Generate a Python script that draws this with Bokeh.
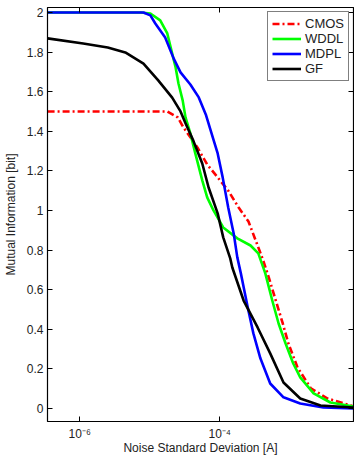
from bokeh.plotting import figure
from bokeh.models import (Range1d, FixedTicker, CustomJSTickFormatter, LinearAxis,
                          LogAxis, Legend, LegendItem)
from bokeh.embed import file_html
from bokeh.resources import INLINE

# ---- data ----
cmos_x = [3.47e-7, 1.78e-5, 2.51e-5, 3.02e-5, 3.80e-5, 4.79e-5, 6.61e-5, 9.33e-5,
          1.32e-4, 1.86e-4, 2.57e-4, 3.47e-4, 4.17e-4, 5.01e-4, 6.31e-4, 7.94e-4,
          9.55e-4, 1.29e-3, 2.00e-3, 3.47e-3, 7.41e-3, 8.13e-3]
cmos_y = [1.50, 1.50, 1.47, 1.42, 1.37, 1.318, 1.232, 1.167,
          1.10, 1.015, 0.944, 0.823, 0.747, 0.662, 0.545, 0.429,
          0.328, 0.207, 0.101, 0.05, 0.015, 0.01]

wddl_x = [3.47e-7, 7.41e-6, 1.02e-5, 1.41e-5, 1.78e-5, 2.09e-5, 2.34e-5, 2.57e-5,
          2.95e-5, 3.24e-5, 3.80e-5, 4.47e-5, 5.62e-5, 6.61e-5, 8.13e-5, 1.12e-4,
          1.78e-4, 2.75e-4, 3.55e-4, 4.47e-4, 5.62e-4, 6.92e-4, 8.71e-4, 1.12e-3,
          1.41e-3, 2.19e-3, 3.80e-3, 8.13e-3]
wddl_y = [2.0, 2.0, 1.995, 1.96, 1.894, 1.793, 1.722, 1.641,
          1.556, 1.47, 1.389, 1.288, 1.152, 1.066, 1.0, 0.914,
          0.859, 0.823, 0.783, 0.682, 0.545, 0.429, 0.328, 0.227,
          0.157, 0.076, 0.03, 0.01]

mdpl_x = [3.47e-7, 8.13e-6, 1.02e-5, 1.20e-5, 1.66e-5, 2.19e-5, 2.75e-5, 3.80e-5,
          5.01e-5, 6.31e-5, 7.94e-5, 9.33e-5, 1.10e-4, 1.32e-4, 1.58e-4, 1.78e-4,
          2.00e-4, 2.51e-4, 3.02e-4, 3.80e-4, 5.25e-4, 8.13e-4, 1.41e-3, 3.02e-3,
          8.13e-3]
mdpl_y = [2.0, 2.0, 1.985, 1.944, 1.874, 1.768, 1.697, 1.636,
          1.571, 1.485, 1.369, 1.288, 1.167, 1.015, 0.884, 0.763,
          0.682, 0.510, 0.379, 0.253, 0.126, 0.056, 0.025, 0.005,
          0.0]

gf_x = [3.47e-7, 1.12e-6, 2.51e-6, 4.47e-6, 8.13e-6, 1.32e-5, 2.09e-5, 2.75e-5,
        3.24e-5, 4.17e-5, 5.62e-5, 6.92e-5, 9.33e-5, 1.12e-4, 1.41e-4, 1.51e-4,
        2.19e-4, 3.47e-4, 5.25e-4, 8.13e-4, 1.41e-3, 2.75e-3, 8.13e-3]
gf_y = [1.869, 1.843, 1.823, 1.798, 1.742, 1.657, 1.57, 1.50,
        1.44, 1.354, 1.237, 1.116, 0.985, 0.864, 0.758, 0.712,
        0.545, 0.409, 0.278, 0.131, 0.05, 0.015, 0.005]

y_ticks = [0, 0.2, 0.4, 0.6, 0.8, 1.0, 1.2, 1.4, 1.6, 1.8, 2.0]
y_tick_labels = ["0", "0.2", "0.4", "0.6", "0.8", "1", "1.2", "1.4", "1.6", "1.8", "2"]
x_ticks = [1e-6, 1e-4]
x_tick_labels = ["10\u207b\u2076", "10\u207b\u2074"]

FONT = "Liberation Sans"

p = figure(width=354, height=457, x_axis_type="log",
           x_range=Range1d(3.46e-7, 8.13e-3), y_range=Range1d(-0.066, 2.025),
           output_backend="svg", toolbar_location=None,
           min_border_left=47, min_border_right=1, min_border_top=7,
           min_border_bottom=36)
p.grid.visible = False
p.outline_line_color = "black"
p.background_fill_color = "white"

y_fmt = CustomJSTickFormatter(args=dict(vals=y_ticks, labs=y_tick_labels), code="""
const i = vals.findIndex(v => Math.abs(v - tick) < 1e-6);
return i >= 0 ? labs[i] : '';
""")
x_fmt = CustomJSTickFormatter(args=dict(vals=x_ticks, labs=x_tick_labels), code="""
const i = vals.findIndex(v => Math.abs(Math.log10(v) - Math.log10(tick)) < 1e-3);
return i >= 0 ? labs[i] : '';
""")
blank = CustomJSTickFormatter(code="return '';")

def style(ax):
    ax.axis_line_color = "black"
    ax.axis_line_width = 1.2
    ax.major_tick_in = 5
    ax.major_tick_out = 0
    ax.minor_tick_line_color = None
    ax.major_tick_line_color = "black"
    ax.major_label_text_font = FONT
    ax.major_label_text_font_size = "12px"
    ax.major_label_text_color = "#222222"
    ax.axis_label_text_font = FONT
    ax.axis_label_text_font_size = "12px"
    ax.axis_label_text_font_style = "normal"
    ax.axis_label_text_color = "#222222"

yax = p.yaxis[0]
yax.ticker = FixedTicker(ticks=y_ticks)
yax.formatter = y_fmt
yax.axis_label = "Mutual Information [bit]"
style(yax)
yax.major_label_standoff = 4
yax.axis_label_standoff = 6

xax = p.xaxis[0]
xax.ticker = FixedTicker(ticks=x_ticks)
xax.formatter = x_fmt
xax.axis_label = "Noise Standard Deviation [A]"
style(xax)
xax.major_label_standoff = 5
xax.axis_label_standoff = -3

rax = LinearAxis(ticker=FixedTicker(ticks=y_ticks), formatter=blank)
style(rax)
rax.major_label_text_font_size = "0px"
rax.major_label_standoff = 0
p.add_layout(rax, "right")

tax = LogAxis(ticker=FixedTicker(ticks=x_ticks), formatter=blank)
style(tax)
tax.major_label_text_font_size = "0px"
tax.major_label_standoff = 0
p.add_layout(tax, "above")

LW = 2.6
r_cmos = p.line(cmos_x, cmos_y, line_color="#ff0000", line_width=LW, line_dash="7 3 2 3")
r_wddl = p.line(wddl_x, wddl_y, line_color="#00ff00", line_width=LW, line_join="round")
r_mdpl = p.line(mdpl_x, mdpl_y, line_color="#0000ff", line_width=LW, line_join="round")
r_gf = p.line(gf_x, gf_y, line_color="#000000", line_width=LW, line_join="round")

legend = Legend(items=[LegendItem(label="CMOS", renderers=[r_cmos]),
                       LegendItem(label="WDDL", renderers=[r_wddl]),
                       LegendItem(label="MDPL", renderers=[r_mdpl]),
                       LegendItem(label="GF", renderers=[r_gf])],
                location="top_right", margin=4, padding=4, spacing=0,
                glyph_width=29, glyph_height=15, label_height=15,
                label_standoff=4, label_text_font=FONT,
                label_text_font_size="13px", label_text_color="#222222",
                border_line_color="black", border_line_width=1,
                background_fill_color="white", background_fill_alpha=1)
p.add_layout(legend, "center")

open("out.html", "w").write(file_html(p, INLINE))
